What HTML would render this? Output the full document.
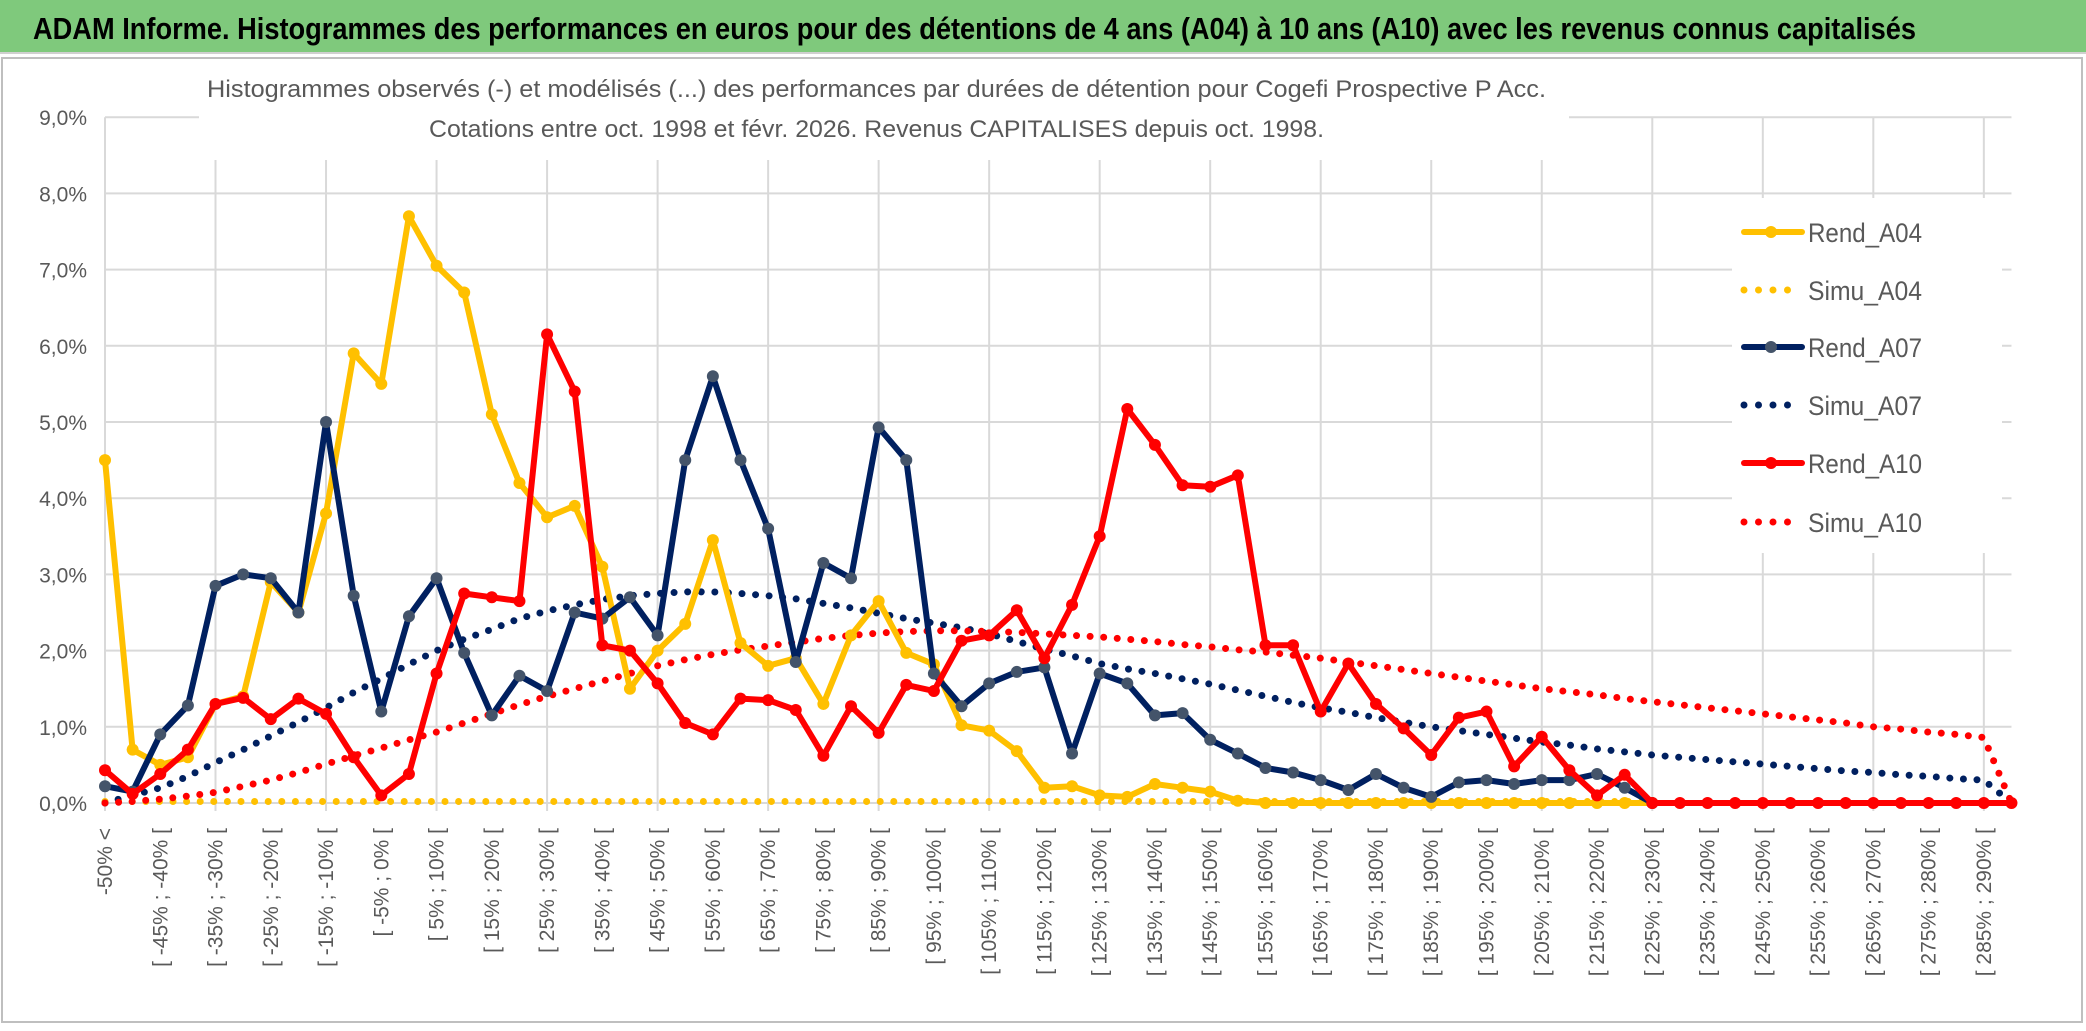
<!DOCTYPE html>
<html><head><meta charset="utf-8"><style>
html,body{margin:0;padding:0;background:#fff;}
svg{display:block;font-family:"Liberation Sans",sans-serif;}
</style></head><body>
<svg id="chart" width="2086" height="1031" viewBox="0 0 2086 1031" xmlns="http://www.w3.org/2000/svg">
<rect x="0" y="0" width="2086" height="1031" fill="#fff"/>
<rect x="0" y="0" width="2086" height="52" fill="#7fc97c"/>
<line x1="0" y1="53" x2="2086" y2="53" stroke="#d0d0d0" stroke-width="2"/>
<text x="33" y="39" font-size="31" font-weight="bold" fill="#000" textLength="1883" lengthAdjust="spacingAndGlyphs">ADAM Informe. Histogrammes des performances en euros pour des détentions de 4 ans (A04) à 10 ans (A10) avec les revenus connus capitalisés</text>
<rect x="2" y="58" width="2080" height="964" fill="none" stroke="#bfbfbf" stroke-width="2"/>
<g id="grid"></g>
<g id="yaxis"></g>
<g id="xaxis"></g>
<rect x="199" y="62" width="1370" height="98" fill="#fff"/>
<text x="207" y="97" font-size="24" fill="#595959" textLength="1339" lengthAdjust="spacingAndGlyphs">Histogrammes observés (-) et modélisés (...) des performances par durées de détention pour Cogefi Prospective P Acc.</text>
<text x="429" y="137" font-size="24" fill="#595959" textLength="895" lengthAdjust="spacingAndGlyphs">Cotations entre oct. 1998 et févr. 2026. Revenus CAPITALISES depuis oct. 1998.</text>
<g id="series"></g>
<rect x="1732" y="198" width="270" height="355" fill="#fff"/>
<g id="legend"></g>
</svg>
<script>
const rendA04 = [4.5,0.7,0.5,0.6,1.3,1.4,2.9,2.5,3.8,5.9,5.5,7.7,7.05,6.7,5.1,4.2,3.75,3.9,3.1,1.5,2.0,2.35,3.45,2.1,1.8,1.9,1.3,2.2,2.65,1.97,1.82,1.02,0.95,0.68,0.2,0.22,0.1,0.08,0.25,0.2,0.15,0.03,0,0,0,0,0,0,0,0,0,0,0,0,0,0,0];
const rendA07 = [0.22,0.15,0.9,1.28,2.85,3.0,2.95,2.5,5.0,2.72,1.2,2.45,2.95,1.97,1.15,1.67,1.47,2.5,2.42,2.7,2.2,4.5,5.6,4.5,3.6,1.85,3.15,2.95,4.93,4.5,1.7,1.27,1.57,1.72,1.78,0.65,1.7,1.57,1.15,1.18,0.83,0.65,0.46,0.4,0.3,0.17,0.38,0.2,0.08,0.27,0.3,0.25,0.3,0.3,0.38,0.2,0];
const rendA10 = [0.43,0.12,0.38,0.7,1.3,1.38,1.1,1.37,1.17,0.6,0.1,0.38,1.7,2.75,2.7,2.65,6.15,5.4,2.07,2.0,1.57,1.05,0.9,1.37,1.35,1.22,0.62,1.27,0.92,1.55,1.47,2.13,2.2,2.53,1.9,2.6,3.5,5.17,4.7,4.17,4.15,4.3,2.07,2.07,1.2,1.83,1.3,0.98,0.63,1.12,1.2,0.48,0.87,0.43,0.1,0.37,0,0,0,0,0,0,0,0,0,0,0,0,0,0];
const simuA04 = [0.02,0.02,0.02,0.02,0.02,0.02,0.02,0.02,0.02,0.02,0.02,0.02,0.02,0.02,0.02,0.02,0.02,0.02,0.02,0.02,0.02,0.02,0.02,0.02,0.02,0.02,0.02,0.02,0.02,0.02,0.02,0.02,0.02,0.02,0.02,0.02,0.02,0.02,0.02,0.02,0.02,0.02,0.02,0.02,0.02,0.02,0.02,0.02,0.02,0.02,0.02,0.02,0.02,0.02,0.02,0.02,0.02];
const simuA07 = [0.0,0.1,0.2,0.35,0.53,0.7,0.88,1.06,1.25,1.45,1.63,1.82,2.0,2.15,2.28,2.42,2.52,2.6,2.67,2.72,2.75,2.77,2.77,2.75,2.72,2.68,2.62,2.56,2.49,2.42,2.36,2.3,2.22,2.12,2.02,1.93,1.83,1.76,1.7,1.63,1.56,1.48,1.4,1.32,1.25,1.19,1.12,1.06,1.0,0.95,0.9,0.85,0.8,0.76,0.71,0.67,0.63,0.6,0.57,0.54,0.51,0.48,0.45,0.42,0.4,0.37,0.35,0.32,0.3,0.0];
const simuA10 = [0.0,0.02,0.05,0.09,0.14,0.22,0.3,0.4,0.51,0.62,0.72,0.83,0.93,1.05,1.17,1.29,1.4,1.5,1.6,1.7,1.8,1.88,1.95,2.01,2.06,2.11,2.16,2.2,2.23,2.25,2.26,2.26,2.25,2.24,2.22,2.2,2.18,2.15,2.12,2.08,2.05,2.01,1.98,1.94,1.9,1.85,1.8,1.75,1.7,1.65,1.6,1.55,1.5,1.46,1.42,1.37,1.33,1.29,1.25,1.21,1.17,1.13,1.09,1.05,1.0,0.97,0.93,0.9,0.86,0.0];
const yTicks = [0,1,2,3,4,5,6,7,8,9];
const yTickLabels = ["0,0%","1,0%","2,0%","3,0%","4,0%","5,0%","6,0%","7,0%","8,0%","9,0%"];
const nCategories = 70;

const NS = "http://www.w3.org/2000/svg";
const X0 = 105, STEP = 27.63, Y0 = 803, YPER = 76.2;
function xs(i){ return X0 + i*STEP; }
function ys(v){ return Y0 - v*YPER; }
function mk(tag, attrs, parent){ const e=document.createElementNS(NS,tag); for(const k in attrs) e.setAttribute(k, attrs[k]); parent.appendChild(e); return e; }
function catLabel(i){ if(i===0) return "-50% <"; const a=-55+5*i, b=-50+5*i; return "[ "+a+"% ; "+b+"% ["; }

const grid = document.getElementById('grid');
const xEnd = xs(nCategories-1);
yTicks.forEach(function(t){
  const l = mk('line',{x1:X0,x2:xEnd,y1:ys(t),y2:ys(t),stroke:'#d9d9d9','stroke-width':2},grid);
  
  
});
for(let i=0;i<nCategories;i+=4){
  const l = mk('line',{x1:xs(i),x2:xs(i),y1:ys(9),y2:Y0+8,stroke:'#d9d9d9','stroke-width':2},grid);
  
  
}
const yaxis = document.getElementById('yaxis');
yTicks.forEach(function(t,k){
  const tx = mk('text',{x:87,y:ys(t)+8,'text-anchor':'end','font-size':21,fill:'#595959'},yaxis);
  tx.textContent = yTickLabels[k];
  
  
});
const xaxis = document.getElementById('xaxis');
for(let i=0;i<nCategories;i+=2){
  const x = xs(i)+7, y = 828;
  const tx = mk('text',{x:x,y:y,'text-anchor':'end','font-size':21,fill:'#595959',transform:'rotate(-90 '+x+' '+y+')'},xaxis);
  tx.textContent = catLabel(i);
  
  
}
const series = document.getElementById('series');
function pts(arr){ return arr.map(function(v,i){return xs(i).toFixed(1)+','+ys(v).toFixed(1);}).join(' '); }
function dotted(arr,color,name){
  const p = mk('polyline',{points:pts(arr),fill:'none',stroke:color,'stroke-width':7,'stroke-linecap':'round','stroke-dasharray':'0 13.6'},series);
  
  
}
function solid(arr,color,mcolor,name){
  const g = mk('g',{},series);
  
  
  mk('polyline',{points:pts(arr),fill:'none',stroke:color,'stroke-width':6,'stroke-linejoin':'round'},g);
  arr.forEach(function(v,i){
    const c = mk('circle',{cx:xs(i),cy:ys(v),r:6,fill:mcolor},g);
    
    
  });
}
dotted(simuA04,'#ffc000','simu-a04-line');
dotted(simuA07,'#002060','simu-a07-line');
dotted(simuA10,'#ff0000','simu-a10-line');
solid(rendA04,'#ffc000','#ffc000','rend-a04-line');
solid(rendA07,'#002060','#44546a','rend-a07-line');
solid(rendA10,'#ff0000','#ff0000','rend-a10-line');

const legend = document.getElementById('legend');
const legItems = [["Rend_A04","#ffc000","#ffc000",false],["Simu_A04","#ffc000",null,true],["Rend_A07","#002060","#44546a",false],["Simu_A07","#002060",null,true],["Rend_A10","#ff0000","#ff0000",false],["Simu_A10","#ff0000",null,true]];
const legY = [232,290,347,405,463,522];
legItems.forEach(function(it,k){
  const g = mk('g',{},legend);
  
  
  const y = legY[k];
  if(it[3]){
    mk('line',{x1:1744,x2:1802,y1:y,y2:y,stroke:it[1],'stroke-width':7,'stroke-linecap':'round','stroke-dasharray':'0 14.5'},g);
  } else {
    mk('line',{x1:1744,x2:1802,y1:y,y2:y,stroke:it[1],'stroke-width':6,'stroke-linecap':'round'},g);
    mk('circle',{cx:1771,cy:y,r:6,fill:it[2]},g);
  }
  const t = mk('text',{x:1808,y:y+10,'font-size':27,fill:'#595959',textLength:114,lengthAdjust:'spacingAndGlyphs'},g);
  t.textContent = it[0];
});
</script>
</body></html>
